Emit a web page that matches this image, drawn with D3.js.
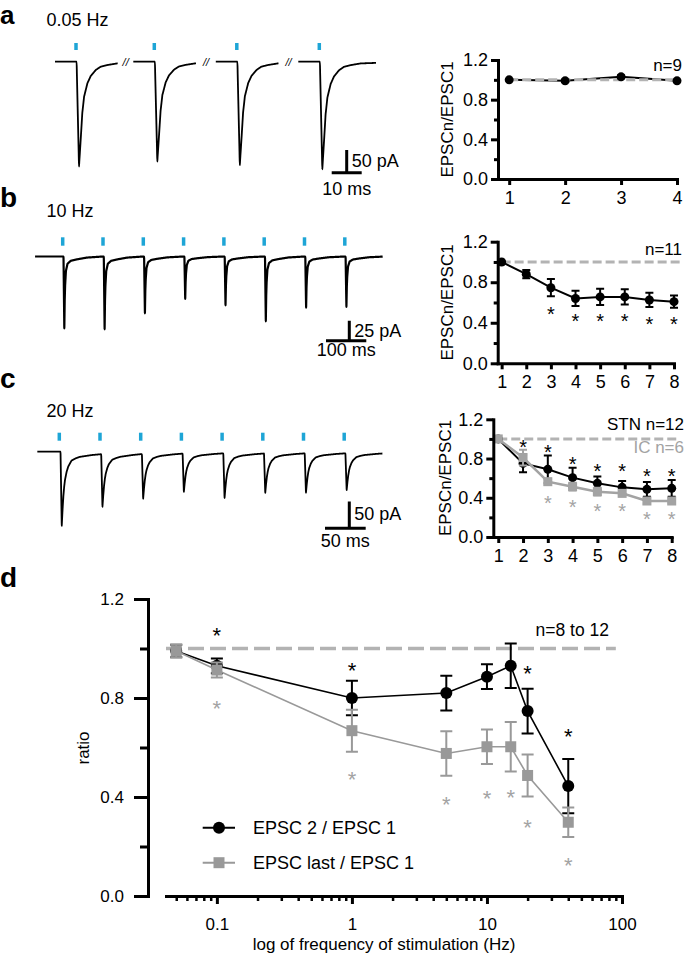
<!DOCTYPE html>
<html><head><meta charset="utf-8">
<script src="https://cdn.jsdelivr.net/npm/d3@7"></script>
<style>
body{margin:0;background:#fff}
svg{display:block}
text{font-family:"Liberation Sans",Arial,Helvetica,sans-serif;fill:#000}
</style>
</head><body>
<svg id="fig" width="685" height="955"></svg>
<script>
// ---------------- DATA ----------------
// Example traces (peak EPSC amplitudes in pA, stimulus times in ms)
const aPeaks = [231, 220, 228, 237];
const bStimTimes = [0, 100, 200, 300, 400, 500, 600, 700];
const bPeaks = [90, 91, 71, 53, 61, 81, 64, 63];
const cStimTimes = [0, 50, 100, 150, 200, 250, 300, 350];
const cPeaks = [139, 99, 84, 72, 84, 74, 74, 69];
// EPSC waveform: [ms after light pulse, fraction of peak]
const kernelA = [[0,0],[0.2,0],[1.0,1],[1.55,0.75],[2.1,0.49],[2.7,0.333],[3.8,0.206],[4.9,0.137],[6.6,0.079],[8.2,0.048],[10.4,0.032],[13.8,0.016],[25,0.005],[40,0]];
const kernelB = [[0,0],[2,0],[4,1],[5,0.6],[6,0.4],[8,0.2],[12,0.1],[20,0.06],[35,0.04],[60,0.015],[100,0]];
const kernelC = [[0,0],[1.5,0],[3,1],[4,0.78],[5,0.6],[6,0.47],[7,0.38],[9,0.27],[11,0.2],[15,0.12],[20,0.09],[25,0.07],[40,0.045],[60,0.025],[120,0]];

// Panel a summary (0.05 Hz)
const aPulse = [1, 2, 3, 4];
const aMean = [1.0, 0.99, 1.03, 0.99];
const aErr = [0, 0.012, 0.015, 0.01];
// Panel b summary (10 Hz)
const pulse8 = [1, 2, 3, 4, 5, 6, 7, 8];
const bMean = [1.0, 0.88, 0.746, 0.64, 0.655, 0.655, 0.625, 0.608];
const bErr = [0, 0.04, 0.085, 0.075, 0.08, 0.075, 0.07, 0.06];
const bStars = [3, 4, 5, 6, 7, 8];
const bStarY = [0.536, 0.46, 0.46, 0.46, 0.434, 0.434];
// Panel c summary (20 Hz)
const cSTN = [1.0, 0.75, 0.69, 0.605, 0.547, 0.506, 0.486, 0.496];
const cSTNErr = [0, 0.09, 0.14, 0.1, 0.07, 0.065, 0.075, 0.085];
const cIC = [1.0, 0.81, 0.564, 0.513, 0.462, 0.445, 0.367, 0.367];
const cICErr = [0, 0.08, 0.03, 0.04, 0.04, 0.03, 0.03, 0.02];
const cSTNStars = [2, 3, 4, 5, 6, 7, 8];
const cSTNStarY = [0.961, 0.914, 0.792, 0.717, 0.717, 0.666, 0.666];
const cICStars = [3, 4, 5, 6, 7, 8];
const cICStarY = [0.394, 0.35, 0.309, 0.309, 0.234, 0.234];
// Panel d (frequency dependence)
const freq = [0.05, 0.1, 1, 5, 10, 15, 20, 40];
const dPair = [0.99, 0.93, 0.80, 0.82, 0.886, 0.93, 0.747, 0.444];
const dPairErr = [0.025, 0.03, 0.07, 0.07, 0.05, 0.09, 0.09, 0.11];
const dLast = [0.99, 0.913, 0.668, 0.576, 0.603, 0.603, 0.487, 0.298];
const dLastErr = [0.025, 0.03, 0.085, 0.09, 0.07, 0.1, 0.085, 0.06];
const dPairStarF = [0.1, 1, 20, 40];
const dPairStarY = [1.075, 0.933, 0.921, 0.667];
const dLastStarF = [0.1, 1, 5, 10, 15, 20, 40];
const dLastStarY = [0.78, 0.493, 0.392, 0.416, 0.42, 0.30, 0.143];
const ratioTicks = [0, 0.4, 0.8, 1.2];
const ratioMinor = [0.2, 0.6, 1.0];
const freqMajor = [0.1, 1, 10, 100];

// ---------------- STYLE ----------------
const BLUE = "#1ea5d6", GREY = "#a3a3a3", DGREY = "#999999", DASH = "#b3b3b3";
const svg = d3.select("#fig");

function txt(x, y, s, size, opts = {}) {
  const t = svg.append("text").attr("x", x).attr("y", y).text(s)
    .attr("font-size", size);
  if (opts.anchor) t.attr("text-anchor", opts.anchor);
  if (opts.weight) t.attr("font-weight", opts.weight);
  if (opts.fill) t.style("fill", opts.fill);
  if (opts.style) t.attr("font-style", opts.style);
  return t;
}
function vtxt(x, y, s, size) {
  svg.append("text").attr("transform", `translate(${x},${y}) rotate(-90)`)
    .attr("text-anchor", "middle").attr("dy", "0.35em").attr("font-size", size).text(s);
}

// panel letters
txt(0, 24, "a", 26, {weight: "bold"});
txt(0, 207, "b", 28, {weight: "bold"});
txt(0, 388, "c", 28, {weight: "bold"});
txt(0, 587, "d", 28, {weight: "bold"});
txt(46.5, 26, "0.05 Hz", 18);
txt(46.5, 216.5, "10 Hz", 18);
txt(46.5, 416.5, "20 Hz", 18);

// ---------------- TRACES ----------------
function tracePath(stims, peaks, kernel, t0, t1, x, y, sw) {
  const k = d3.scaleLinear().domain(kernel.map(d => d[0])).range(kernel.map(d => d[1])).clamp(true);
  const pts = d3.range(t0, t1, 0.1).map(t => [t, -d3.sum(stims, (s, i) => peaks[i] * k(t - s))]);
  svg.append("path").attr("d", d3.line().curve(d3.curveMonotoneX).x(d => x(d[0])).y(d => y(d[1]))(pts))
    .attr("fill", "none").attr("stroke", "#000").attr("stroke-width", sw)
    .attr("stroke-linejoin", "round");
}
function stimTicks(times, x, y0, y1) {
  svg.append("g").selectAll("line").data(times).join("line")
    .attr("x1", d => x(d)).attr("x2", d => x(d)).attr("y1", y0).attr("y2", y1)
    .attr("stroke", BLUE).attr("stroke-width", 3.5);
}
function scaleBar(xv, yTop, yBot, xL, xR, vLabel, hLabel, vLabY, hLabY) {
  svg.append("path").attr("d", `M${xv},${yTop}V${yBot}M${xL},${yBot}H${xR}`)
    .attr("stroke", "#000").attr("stroke-width", 3).attr("fill", "none");
  txt(xv + 5, vLabY, vLabel, 18);
  txt((xL + xR) / 2, hLabY, hLabel, 18, {anchor: "middle"});
}

// Panel a traces: 4 sweeps at 0.05 Hz, shown with breaks
const aSweepOffsets = [0, 26.1, 53.6, 81.1];
const axA = d3.scaleLinear().domain([0, 10]).range([76, 106]);
const ayA = d3.scaleLinear().domain([0, -50]).range([61.7, 84.4]);
aSweepOffsets.forEach((o, i) => {
  const tEnd = i === aSweepOffsets.length - 1 ? o + 19 : o + 14;
  tracePath([o], [aPeaks[i]], kernelA, o - 7, tEnd, axA, ayA, 1.8);
  if (i > 0) {
    const mid = (aSweepOffsets[i - 1] + 14 + o - 7) / 2;
    txt(axA(mid), ayA(0) + 4, "//", 11, {anchor: "middle", style: "italic"});
  }
});
stimTicks(aSweepOffsets, axA, 43, 50);
scaleBar(346.7, 172.7 - (ayA(-50) - ayA(0)), 172.7, 331.7, 331.7 + (axA(10) - axA(0)), "50 pA", "10 ms", 166.5, 195);

// Panel b traces
const axB = d3.scaleLinear().domain([0, 100]).range([62.7, 103]);
const ayB = d3.scaleLinear().domain([0, -25]).range([256.5, 276.5]);
tracePath(bStimTimes, bPeaks, kernelB, -68.6, 794, axB, ayB, 2.2);
stimTicks(bStimTimes, axB, 237.3, 245.7);
scaleBar(349.3, 340.7 - (ayB(-25) - ayB(0)), 340.7, 326, 326 + (axB(100) - axB(0)), "25 pA", "100 ms", 336.5, 356);

// Panel c traces
const axC = d3.scaleLinear().domain([0, 50]).range([59.3, 100]);
const ayC = d3.scaleLinear().domain([0, -50]).range([451.7, 478.4]);
tracePath(cStimTimes, cPeaks, kernelC, -27, 397, axC, ayC, 1.8);
stimTicks(cStimTimes, axC, 432.7, 440.7);
scaleBar(349.3, 528.3 - (ayC(-50) - ayC(0)), 528.3, 325, 325 + (axC(50) - axC(0)), "50 pA", "50 ms", 520, 547);

// ---------------- SMALL SUMMARY PANELS ----------------
function styleAxis(g, sw) {
  g.select(".domain").attr("stroke-width", sw).attr("stroke-linecap", "square");
  g.selectAll(".tick line").attr("stroke-width", sw);
  g.selectAll("text").style("font-family", "'Liberation Sans',Arial,sans-serif");
}
function errorBars(g, xs, means, errs, x, y, color, cap, sw) {
  g.append("g").selectAll("path")
    .data(means.map((m, i) => ({x: xs[i], m, e: errs[i]})).filter(d => d.e > 0))
    .join("path")
    .attr("d", d => `M${x(d.x) - cap},${y(d.m + d.e)}H${x(d.x) + cap}M${x(d.x)},${y(d.m + d.e)}V${y(d.m - d.e)}M${x(d.x) - cap},${y(d.m - d.e)}H${x(d.x) + cap}`)
    .attr("stroke", color).attr("stroke-width", sw).attr("fill", "none");
}
function series(g, xs, means, errs, x, y, color, shape, size, lw, cap, ew) {
  const pts = xs.map((v, i) => [v, means[i]]);
  g.append("path").attr("d", d3.line().x(d => x(d[0])).y(d => y(d[1]))(pts))
    .attr("fill", "none").attr("stroke", color).attr("stroke-width", lw);
  errorBars(g, xs, means, errs, x, y, color, cap, ew);
  if (shape === "circle") {
    g.append("g").selectAll("circle").data(pts).join("circle")
      .attr("cx", d => x(d[0])).attr("cy", d => y(d[1])).attr("r", size).attr("fill", color);
  } else {
    g.append("g").selectAll("rect").data(pts).join("rect")
      .attr("x", d => x(d[0]) - size).attr("y", d => y(d[1]) - size)
      .attr("width", 2 * size).attr("height", 2 * size).attr("fill", color);
  }
}
function stars(g, xs, ys, x, y, color, size) {
  g.append("g").selectAll("text").data(xs.map((v, i) => [v, ys[i]])).join("text")
    .attr("x", d => x(d[0])).attr("y", d => y(d[1]) + size * 0.58)
    .attr("text-anchor", "middle").attr("font-size", size).style("fill", color).text("*");
}
function smallAxes(x, y, xTicks) {
  const gy = svg.append("g").attr("transform", `translate(${x.range()[0]},0)`)
    .call(d3.axisLeft(y).tickValues(ratioTicks).tickFormat(d3.format(".1f")).tickSize(7).tickPadding(3).tickSizeOuter(0));
  gy.selectAll("text").attr("font-size", 18);
  styleAxis(gy, 3);
  const gm = svg.append("g").attr("transform", `translate(${x.range()[0]},0)`)
    .call(d3.axisLeft(y).tickValues(ratioMinor).tickFormat("").tickSize(4).tickSizeOuter(0));
  gm.select(".domain").remove();
  styleAxis(gm, 3);
  const gx = svg.append("g").attr("transform", `translate(0,${y.range()[0]})`)
    .call(d3.axisBottom(x).tickValues(xTicks).tickFormat(d3.format("d")).tickSize(6).tickPadding(6).tickSizeOuter(0));
  gx.selectAll("text").attr("font-size", 18);
  styleAxis(gx, 3);
}
function dashed(g, x0, x1, yv, w, da) {
  g.append("line").attr("x1", x0).attr("x2", x1).attr("y1", yv).attr("y2", yv)
    .attr("stroke", DASH).attr("stroke-width", w).attr("stroke-dasharray", da);
}

// a
{
  const x = d3.scaleLinear().domain([0.8, 4]).range([498, 677]);
  const y = d3.scaleLinear().domain([0, 1.2]).range([179, 60]);
  const g = svg.append("g");
  const pts = aPulse.map((v, i) => [v, aMean[i]]);
  g.append("path").attr("d", d3.line().x(d => x(d[0])).y(d => y(d[1]))(pts))
    .attr("fill", "none").attr("stroke", "#000").attr("stroke-width", 2);
  dashed(g, x(1), x(4), y(1), 3, "9,4");
  errorBars(g, aPulse, aMean, aErr, x, y, "#000", 4, 2);
  g.append("g").selectAll("circle").data(pts).join("circle")
    .attr("cx", d => x(d[0])).attr("cy", d => y(d[1])).attr("r", 4.5).attr("fill", "#000");
  smallAxes(x, y, aPulse);
  vtxt(447, 119.5, "EPSCn/EPSC1", 17);
  txt(682, 71, "n=9", 17, {anchor: "end"});
}
// b
{
  const x = d3.scaleLinear().domain([0.84, 8]).range([497.7, 674]);
  const y = d3.scaleLinear().domain([0, 1.2]).range([363.3, 241.7]);
  const g = svg.append("g");
  dashed(g, x(1), x(8) + 6, y(1), 3, "9,4");
  series(g, pulse8, bMean, bErr, x, y, "#000", "circle", 4.5, 2, 4, 2);
  stars(g, bStars, bStarY, x, y, "#000", 20);
  smallAxes(x, y, pulse8);
  vtxt(446.7, 302.5, "EPSCn/EPSC1", 17);
  txt(682, 255, "n=11", 17, {anchor: "end"});
}
// c
{
  const x = d3.scaleLinear().domain([0.8, 8]).range([493.3, 671.7]);
  const y = d3.scaleLinear().domain([0, 1.2]).range([537, 419.3]);
  const g = svg.append("g");
  dashed(g, x(1), x(8) + 8, y(1), 3, "9,4");
  series(g, pulse8, cSTN, cSTNErr, x, y, "#000", "circle", 4.5, 2, 4, 2);
  series(g, pulse8, cIC, cICErr, x, y, GREY, "square", 4.5, 2.5, 4, 2);
  stars(g, cSTNStars, cSTNStarY, x, y, "#000", 20);
  stars(g, cICStars, cICStarY, x, y, GREY, 20);
  smallAxes(x, y, pulse8);
  vtxt(445, 478, "EPSCn/EPSC1", 17);
  txt(684, 430, "STN n=12", 17, {anchor: "end"});
  txt(684, 453, "IC n=6", 17, {anchor: "end", fill: GREY});
}

// ---------------- PANEL d ----------------
{
  const x = d3.scaleLog().domain([0.042, 100]).range([166, 622]);
  const y = d3.scaleLinear().domain([0, 1.2]).range([896, 599]);
  const yAxX = 148;
  const g = svg.append("g");
  dashed(g, x.range()[0], x(90), y(1), 3.5, "16,6");

  const gy = svg.append("g").attr("transform", `translate(${yAxX},0)`)
    .call(d3.axisLeft(y).tickValues(ratioTicks).tickFormat(d3.format(".1f")).tickSize(14).tickPadding(10).tickSizeOuter(0));
  gy.selectAll("text").attr("font-size", 17);
  styleAxis(gy, 3);
  const gym = svg.append("g").attr("transform", `translate(${yAxX},0)`)
    .call(d3.axisLeft(y).tickValues(ratioMinor).tickFormat("").tickSize(8).tickSizeOuter(0));
  gym.select(".domain").remove();
  styleAxis(gym, 3);

  const gx = svg.append("g").attr("transform", `translate(0,${y.range()[0]})`)
    .call(d3.axisBottom(x).tickValues(freqMajor).tickFormat(d3.format("~g")).tickSize(8).tickPadding(14).tickSizeOuter(0));
  gx.selectAll("text").attr("font-size", 17);
  styleAxis(gx, 3);
  const minor = x.ticks().filter(v => !freqMajor.some(m => Math.abs(m - v) < 1e-9));
  const gxm = svg.append("g").attr("transform", `translate(0,${y.range()[0]})`)
    .call(d3.axisBottom(x).tickValues(minor).tickFormat("").tickSize(5).tickSizeOuter(0));
  gxm.select(".domain").remove();
  styleAxis(gxm, 2.5);

  series(g, freq, dPair, dPairErr, x, y, "#000", "circle", 6, 1.6, 6, 2);
  series(g, freq, dLast, dLastErr, x, y, DGREY, "square", 5.5, 1.6, 6, 2);
  stars(g, dPairStarF, dPairStarY, x, y, "#000", 22);
  stars(g, dLastStarF, dLastStarY, x, y, GREY, 22);

  txt(535.5, 636, "n=8 to 12", 17.5);
  vtxt(83, 748, "ratio", 17);
  txt(384, 950, "log of frequency of stimulation (Hz)", 17, {anchor: "middle"});

  // legend
  const leg = svg.append("g");
  leg.append("line").attr("x1", 202.7).attr("x2", 235).attr("y1", 827.7).attr("y2", 827.7)
    .attr("stroke", "#000").attr("stroke-width", 2);
  leg.append("circle").attr("cx", 219).attr("cy", 827.7).attr("r", 6).attr("fill", "#000");
  leg.append("line").attr("x1", 202.7).attr("x2", 235).attr("y1", 862.7).attr("y2", 862.7)
    .attr("stroke", DGREY).attr("stroke-width", 2);
  leg.append("rect").attr("x", 219 - 5.5).attr("y", 862.7 - 5.5).attr("width", 11).attr("height", 11).attr("fill", DGREY);
  txt(253, 834, "EPSC 2 / EPSC 1", 18);
  txt(253, 869, "EPSC last / EPSC 1", 18);
}
</script>
</body></html>
